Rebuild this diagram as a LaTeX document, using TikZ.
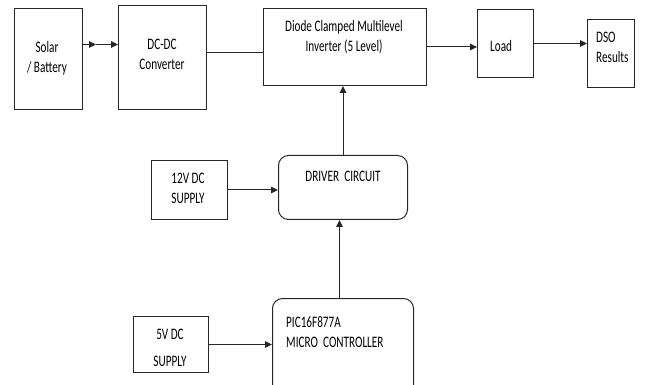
\documentclass[tikz,border=0pt]{standalone}
\usepackage{fontspec}
\setmainfont[FakeStretch=0.7]{Carlito}
\usetikzlibrary{arrows.meta,positioning}

\begin{document}
\begin{tikzpicture}[x=1pt, y=-1pt, font=\fontsize{16}{20}\selectfont,
  blockbox/.style={draw=black!85, line width=1pt, inner sep=0pt, anchor=north west},
  roundbox/.style={blockbox, rounded corners=10pt},
  link/.style={draw=black!85, line width=1pt, -{Triangle[length=7pt,width=6.5pt]}}]
  \useasboundingbox (0,0) rectangle (646,385);
  % square blocks
  \foreach \name/\x/\y/\w/\h in {%
    solar/14/8/68/101,%
    dcdc/118/5/88/104,%
    inv/263/8/163/77,%
    load/477/9/56/68,%
    dso/587/19/47/68,%
    twelve/151/160/76/59,%
    five/133/316/75/56%
  }{
    \node[blockbox, minimum width=\w, minimum height=\h] (\name) at (\x,\y) {};
  }
  % rounded blocks
  \node[roundbox, minimum width=129, minimum height=64] (driver) at (278,155) {};
  \node[roundbox, minimum width=141, minimum height=100] (micro) at (272,298) {};
  % labels
  \node[align=center] (solar-txt) at (47,58) {Solar\\/ Battery};
  \node[align=center] (dcdc-txt) at (162,54) {DC-DC\\Converter};
  \node[align=center] (inv-txt) at (344,37) {Diode Clamped Multilevel\\Inverter (5 Level)};
  \node[anchor=west, inner sep=0pt] (load-txt) at (490,46) {Load};
  \node[anchor=west, align=left, inner sep=0pt] (dso-txt) at (596,47) {DSO\\Results};
  \node[align=center] (twelve-txt) at (188,188) {12V DC\\SUPPLY};
  \node (driver-txt) at (343,176) {DRIVER\, CIRCUIT};
  \node[anchor=west, align=left, inner sep=0pt] (micro-txt) at (286,332) {PIC16F877A\\MICRO\, CONTROLLER};
  \node[align=center] (five-txt) at (170,348) {5V DC\\[7pt]SUPPLY};
  % connectors
  \coordinate (solar-mid) at ([yshift=14.5pt]solar.east -| 96,0);
  \draw[link] ([yshift=14.5pt]solar.east) -- (solar-mid);
  \draw[link] (solar-mid) -- (solar-mid -| dcdc.west);
  \draw[draw=black!85, line width=1pt] ([yshift=5pt]dcdc.east) -- ([yshift=5pt]dcdc.east -| inv.west);
  \draw[link] (inv.east) -- (inv.east -| load.west);
  \draw[link] (load.east) -- (load.east -| dso.west);
  \draw[link] (driver.north) -- (driver.north |- inv.south);
  \draw[link] (twelve.east) -- (twelve.east -| driver.west);
  \draw[link] ([xshift=-3.5pt]micro.north) -- ([xshift=-3.5pt]micro.north |- driver.south);
  \draw[link] (five.east) -- (five.east -| micro.west);
\end{tikzpicture}
\end{document}
